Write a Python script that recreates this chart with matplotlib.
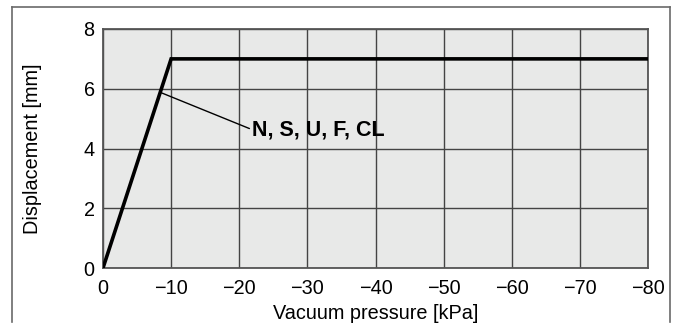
import matplotlib
matplotlib.use("Agg")
import matplotlib.pyplot as plt
from matplotlib.lines import Line2D

plt.rcParams['font.family'] = ['Liberation Sans', 'DejaVu Sans']

# data
pressure = [0, -10, -80]          # kPa
displacement = [0, 7, 7]          # mm
xticks = [0, -10, -20, -30, -40, -50, -60, -70, -80]
xticklabels = ['0', '\u221210', '\u221220', '\u221230', '\u221240',
               '\u221250', '\u221260', '\u221270', '\u221280']
yticks = [0, 2, 4, 6, 8]
label_text = 'N, S, U, F, CL'
label_point = (-8.4, 5.88)
label_pos = (-21.9, 4.63)

W, H = 676, 329
fig = plt.figure(figsize=(W / 100, H / 100), dpi=100)
ax = fig.add_axes([103 / W, 1 - 268 / H, (648 - 103) / W, (268 - 29) / H])

ax.set_facecolor('#e8e9e8')
ax.plot(pressure, displacement, color='black', lw=2.6, solid_joinstyle='miter', zorder=3)

ax.set_xlim(0, -80)
ax.set_ylim(0, 8)
ax.set_xticks(xticks)
ax.set_xticklabels(xticklabels)
ax.set_yticks(yticks)
ax.tick_params(length=0, labelsize=14.3, colors='black')
ax.tick_params(axis='x', pad=8)
ax.tick_params(axis='y', pad=6)
ax.grid(True, color='#444444', lw=1.0, zorder=1)
ax.set_axisbelow(True)
for s in ax.spines.values():
    s.set_color('#555555')
    s.set_linewidth(1.3)

ax.set_xlabel('Vacuum pressure [kPa]', fontsize=14.3, va='top')
ax.xaxis.set_label_coords(0.5, -0.152)
ax.set_ylabel('Displacement [mm]', fontsize=14.3)
ax.yaxis.set_label_coords(-0.112, 0.5)

ax.annotate(label_text, xy=label_point, xytext=label_pos,
            fontsize=15.5, fontweight='bold', va='center', ha='left',
            arrowprops=dict(arrowstyle='-', color='black', lw=1.0,
                            shrinkA=0, shrinkB=0,
                            relpos=(0, 0.5)))

# outer frame
fc = '#6a6a6a'
fig.add_artist(Line2D([12 / W, 12 / W], [1 - 7 / H, 1 - 322 / H], color=fc, lw=1.2))
fig.add_artist(Line2D([670 / W, 670 / W], [1 - 7 / H, 1 - 322 / H], color=fc, lw=1.2))
fig.add_artist(Line2D([12 / W, 670 / W], [1 - 7 / H, 1 - 7 / H], color=fc, lw=1.2))

fig.savefig('out.png', dpi=100)
